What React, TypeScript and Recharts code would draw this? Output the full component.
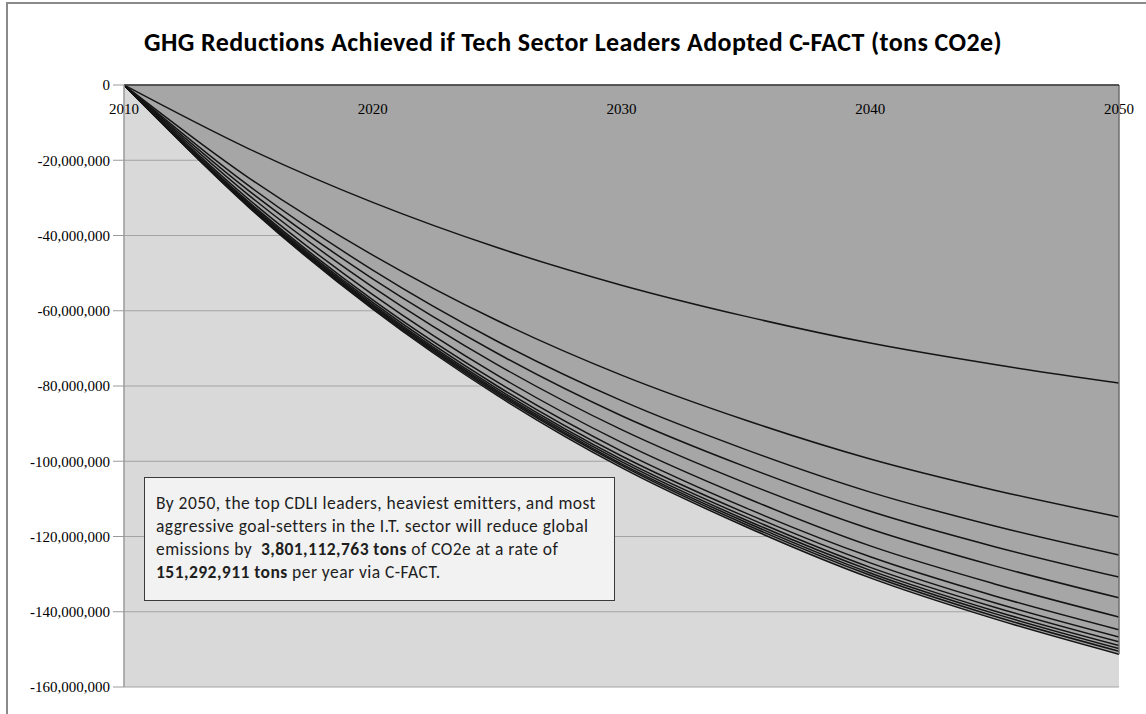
import React from "react";
import { AreaChart, Area, XAxis, YAxis, CartesianGrid, ReferenceLine, ReferenceDot } from "recharts";

// Years shown on the category axis (values read at 5-year steps)
const years = [2010, 2015, 2020, 2025, 2030, 2035, 2040, 2045, 2050];
const xTicks = [2010, 2020, 2030, 2040, 2050];
const yTicks = [0, -20000000, -40000000, -60000000, -80000000, -100000000, -120000000, -140000000, -160000000];

// Cumulative reductions per group, in MILLION tons CO2e (negative = reduction)
const line01 = [0, -16.9, -31.2, -43.2, -53.2, -61.5, -68.6, -74.3, -79.2];
const line02 = [0, -24.6, -45.2, -62.6, -77.1, -89.1, -99.4, -107.7, -114.8];
const line03 = [0, -26.7, -49.2, -68.1, -83.9, -96.9, -108.2, -117.2, -124.9];
const line04 = [0, -28.0, -51.5, -71.3, -87.9, -101.5, -113.3, -122.7, -130.8];
const line05 = [0, -29.2, -53.7, -74.3, -91.6, -105.8, -118.0, -127.8, -136.3];
const line06 = [0, -30.3, -55.7, -77.1, -95.0, -109.7, -122.5, -132.6, -141.4];
const line07 = [0, -31.0, -57.1, -78.9, -97.3, -112.4, -125.4, -135.8, -144.8];
const line08 = [0, -31.4, -57.8, -80.0, -98.6, -113.8, -127.0, -137.6, -146.7];
const line09 = [0, -31.7, -58.3, -80.7, -99.5, -114.8, -128.2, -138.8, -148.0];
const line10 = [0, -31.9, -58.7, -81.2, -100.1, -115.6, -129.0, -139.8, -149.0];
const line11 = [0, -32.1, -59.0, -81.6, -100.7, -116.2, -129.7, -140.5, -149.8];
const line12 = [0, -32.2, -59.3, -82.0, -101.1, -116.8, -130.3, -141.2, -150.5];
const line13 = [0, -32.4, -59.6, -82.5, -101.7, -117.4, -131.0, -141.9, -151.3];

const series = [line01, line02, line03, line04, line05, line06, line07, line08, line09, line10, line11, line12, line13];
const keys = series.map((_, i) => `s${i + 1}`);
const MILLION = 1000000;

const rows = years.map((year, yi) => {
  const row: Record<string, number> = { year };
  series.forEach((s, si) => {
    row[keys[si]] = s[yi] * MILLION;
  });
  return row;
});

const deepest = line13[line13.length - 1] * MILLION;
const SERIF = "'Liberation Serif', 'DejaVu Serif', serif";

const makeYearLabel = (year: number) => (props: any) => {
  const vb = props.viewBox || {};
  const cx = (vb.x || 0) + (vb.width || 0) / 2;
  const cy = (vb.y || 0) + (vb.height || 0) / 2;
  return (
    <text x={cx} y={cy} dy={29} textAnchor="middle" fontFamily={SERIF} fontSize={15} fill="#000">
      {year}
    </text>
  );
};

export default function App() {
  const drawOrder = [...keys].reverse();
  return (
    <div style={{ position: "relative", width: 1146, height: 714, overflow: "hidden", background: "#fff" }}>
      <style>{`body{margin:0;overflow:hidden;}`}</style>
      <div
        style={{
          position: "absolute",
          left: 6,
          top: 2,
          width: 1300,
          height: 900,
          borderLeft: "2px solid #8a8a8a",
          borderTop: "2px solid #8a8a8a",
        }}
      />
      <div
        style={{
          position: "absolute",
          left: 0,
          top: 25,
          width: 1146,
          textAlign: "center",
          fontFamily: "Carlito, Lato, 'Open Sans', sans-serif",
          fontWeight: 700,
          fontSize: 26,
          letterSpacing: 0.4,
          lineHeight: "34px",
          color: "#000",
          whiteSpace: "nowrap",
        }}
      >
        GHG Reductions Achieved if Tech Sector Leaders Adopted C-FACT (tons CO2e)
      </div>
      <div style={{ position: "absolute", left: 0, top: 0 }}>
        <AreaChart width={1146} height={714} data={rows} margin={{ top: 85, right: 27, bottom: 27, left: 0 }}>
          <CartesianGrid horizontal={true} vertical={false} stroke="#a3a3a3" fill="#d9d9d9" fillOpacity={1} />
          <XAxis
            dataKey="year"
            type="number"
            domain={[2010, 2050]}
            ticks={xTicks}
            orientation="top"
            height={0}
            axisLine={false}
            tickLine={false}
            tick={false}
            allowDataOverflow
          />
          <YAxis
            type="number"
            domain={[-160000000, 0]}
            ticks={yTicks}
            width={124}
            tickSize={11}
            tickMargin={3}
            axisLine={{ stroke: "#9a9a9a", strokeWidth: 1.5 }}
            tickLine={{ stroke: "#9a9a9a" }}
            tick={{ fontFamily: SERIF, fontSize: 15, fill: "#000" }}
            tickFormatter={(v: number) => v.toLocaleString("en-US")}
            allowDataOverflow
          />
          {drawOrder.map((k) => (
            <Area
              key={k}
              dataKey={k}
              type="monotone"
              fill="#a6a6a6"
              fillOpacity={1}
              stroke="#141414"
              strokeWidth={1.5}
              dot={false}
              activeDot={false}
              isAnimationActive={false}
            />
          ))}
          <ReferenceLine
            segment={[
              { x: 2050, y: 0 },
              { x: 2050, y: deepest },
            ]}
            stroke="#6e6e6e"
            strokeWidth={1.5}
          />
          <ReferenceLine y={0} stroke="#333" strokeWidth={1.5} />
          {xTicks.map((yr) => (
            <ReferenceDot
              key={yr}
              x={yr}
              y={0}
              r={0}
              fill="none"
              stroke="none"
              label={makeYearLabel(yr)}
            />
          ))}
        </AreaChart>
      </div>
      <div
        style={{
          position: "absolute",
          left: 144,
          top: 477,
          width: 471,
          height: 124,
          boxSizing: "border-box",
          border: "1.5px solid #3a3a3a",
          background: "#f2f2f2",
          paddingLeft: 11,
          paddingTop: 14,
          fontFamily: "Carlito, Lato, 'Open Sans', sans-serif",
          fontSize: 17.5,
          letterSpacing: 0.45,
          lineHeight: "23px",
          color: "#1e1e1e",
          whiteSpace: "nowrap",
        }}
      >
        By 2050, the top CDLI leaders, heaviest emitters, and most
        <br />
        aggressive goal-setters in the I.T. sector will reduce global
        <br />
        emissions by&nbsp; <b>3,801,112,763 tons</b> of CO2e at a rate of
        <br />
        <b>151,292,911 tons</b> per year via C-FACT.
      </div>
    </div>
  );
}
